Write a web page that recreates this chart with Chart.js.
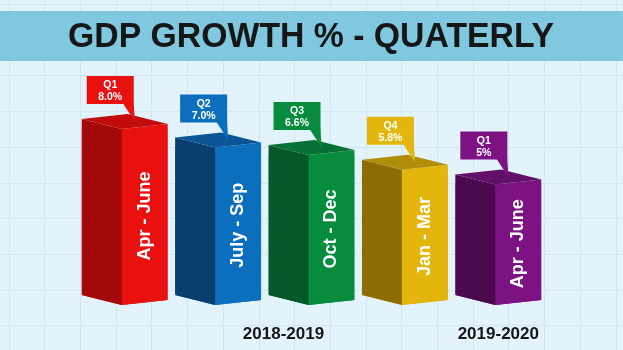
<!DOCTYPE html>
<html>
<head>
<meta charset="utf-8">
<title>GDP Growth % - Quaterly</title>
<script src="https://cdn.jsdelivr.net/npm/chart.js@4.4.1/dist/chart.umd.min.js"></script>
<style>
  html, body { margin: 0; padding: 0; background: #e3f3fb; }
  #wrap { width: 623px; height: 350px; }
</style>
</head>
<body>
<div id="wrap"><canvas id="myChart" width="623" height="350"></canvas></div>
<script>
// data
const titleText = 'GDP GROWTH % - QUATERLY';
const periods = ['Apr - June', 'July - Sep', 'Oct - Dec', 'Jan - Mar', 'Apr - June'];
const quarters = ['Q1', 'Q2', 'Q3', 'Q4', 'Q1'];
const growth = [8.0, 7.0, 6.6, 5.8, 5];
const growthLabels = ['8.0%', '7.0%', '6.6%', '5.8%', '5%'];
const years = ['2018-2019', '2019-2020'];
const yearAt = [1.7, 4]; // position on the category axis

// colours: front face, left face, top face
const frontColors = ['#e8110f', '#0c6fbe', '#078b3d', '#e2b60c', '#7d1283'];
const sideColors = ['#a30909', '#0a3e6f', '#06582a', '#8c6d05', '#4b0a4d'];
const topColors = ['#c20c0b', '#0b5596', '#077034', '#b08d08', '#63106a'];

const FONT = '"Liberation Sans", Arial, sans-serif';

// geometry of a 3d box built on a bar element
function boxOf(bar) {
    const xL = bar.x - bar.width / 2;
    const xR = bar.x + bar.width / 2;
    return { xL: xL, xR: xR, xF: xL + bar.width * 0.465, top: bar.y, base: bar.base, dl: 10, dr: 5 };
}

function poly(ctx, pts, color) {
    ctx.beginPath();
    ctx.moveTo(pts[0][0], pts[0][1]);
    for (let i = 1; i < pts.length; i++) ctx.lineTo(pts[i][0], pts[i][1]);
    ctx.closePath();
    if (color) {
        ctx.fillStyle = color;
        ctx.fill();
    }
}

function outline(b) {
    return [
        [b.xL, b.base - b.dl], [b.xF, b.base], [b.xR, b.base - b.dr],
        [b.xR, b.top - b.dr], [b.xL + b.xR - b.xF, b.top - b.dl - b.dr], [b.xL, b.top - b.dl]
    ];
}

// background, grid, title band
const backgroundPlugin = {
    id: 'background',
    beforeDraw(chart) {
        const ctx = chart.ctx;
        const w = chart.width, h = chart.height;
        ctx.save();
        ctx.fillStyle = '#e3f3fb';
        ctx.fillRect(0, 0, w, h);
        ctx.strokeStyle = '#d0e7f2';
        ctx.lineWidth = 1;
        for (let x = 80 - 35.7 * 2; x < w; x += 35.7) {
            ctx.beginPath();
            ctx.moveTo(Math.round(x) + 0.5, 0);
            ctx.lineTo(Math.round(x) + 0.5, h);
            ctx.stroke();
        }
        for (let y = 4; y < h; y += 35.7) {
            ctx.beginPath();
            ctx.moveTo(0, Math.round(y) + 0.5);
            ctx.lineTo(w, Math.round(y) + 0.5);
            ctx.stroke();
        }
        ctx.fillStyle = '#7fc8e0';
        ctx.fillRect(0, 11, w, 50);
        ctx.fillStyle = '#161616';
        ctx.font = 'bold 35px ' + FONT;
        ctx.textAlign = 'center';
        ctx.textBaseline = 'alphabetic';
        ctx.fillText(titleText, 311, 47, 486);
        ctx.restore();
    }
};

// 3d faces, labels inside the bars, callouts and years
const boxPlugin = {
    id: 'boxes',
    beforeDatasetDraw(chart) {
        const ctx = chart.ctx;
        ctx.save();
        ctx.beginPath();
        chart.getDatasetMeta(0).data.forEach(bar => {
            const pts = outline(boxOf(bar));
            ctx.moveTo(pts[0][0], pts[0][1]);
            pts.slice(1).forEach(p => ctx.lineTo(p[0], p[1]));
            ctx.closePath();
        });
        ctx.clip();
    },
    afterDatasetDraw(chart) {
        chart.ctx.restore();
    },
    afterDatasetsDraw(chart) {
        const ctx = chart.ctx;
        const xScale = chart.scales.x;
        ctx.save();
        chart.getDatasetMeta(0).data.forEach((bar, i) => {
            const b = boxOf(bar);
            const back = [b.xL + b.xR - b.xF, b.top - b.dl - b.dr];
            // front face
            poly(ctx, [[b.xF, b.top], [b.xR, b.top - b.dr], [b.xR, b.base - b.dr], [b.xF, b.base]], frontColors[i]);
            // left face
            poly(ctx, [[b.xL, b.top - b.dl], [b.xF, b.top], [b.xF, b.base], [b.xL, b.base - b.dl]], sideColors[i]);
            // top face
            poly(ctx, [[b.xL, b.top - b.dl], back, [b.xR, b.top - b.dr], [b.xF, b.top]], topColors[i]);

            // period label, rotated
            ctx.save();
            ctx.translate((b.xF + b.xR) / 2, (b.top + b.base) / 2 - 1);
            ctx.rotate(-Math.PI / 2);
            ctx.fillStyle = '#ffffff';
            ctx.font = 'bold 18px ' + FONT;
            ctx.textAlign = 'center';
            ctx.textBaseline = 'middle';
            ctx.fillText(periods[i], 0, 0);
            ctx.restore();

            // callout
            const left = b.xL + 5, right = b.xL + 52;
            const bottom = b.top - b.dl - 15, top = bottom - 28;
            poly(ctx, [[left, top], [right, top], [right, bottom], [left, bottom]], frontColors[i]);
            poly(ctx, [[right - 11, bottom - 1], [right, bottom - 1], [b.xL + 53, b.top - (b.dl + b.dr) / 2]], frontColors[i]);
            ctx.fillStyle = '#ffffff';
            ctx.font = 'bold 10.5px ' + FONT;
            ctx.textAlign = 'center';
            ctx.textBaseline = 'alphabetic';
            ctx.fillText(quarters[i], (left + right) / 2, bottom - 16);
            ctx.fillText(growthLabels[i], (left + right) / 2, bottom - 4);
        });

        // years under the bars
        ctx.fillStyle = '#161616';
        ctx.font = 'bold 17px ' + FONT;
        ctx.textAlign = 'center';
        ctx.textBaseline = 'alphabetic';
        years.forEach((yr, i) => {
            ctx.fillText(yr, xScale.getPixelForValue(yearAt[i]), 339);
        });
        ctx.restore();
    }
};

const ctx = document.getElementById('myChart').getContext('2d');
const myChart = new Chart(ctx, {
    type: 'bar',
    data: {
        labels: periods,
        datasets: [{
            label: 'GDP growth %',
            data: growth,
            base: -1.5,
            backgroundColor: frontColors,
            borderWidth: 0,
            barPercentage: 0.92,
            categoryPercentage: 1.0
        }]
    },
    options: {
        responsive: false,
        animation: false,
        devicePixelRatio: 1,
        layout: {
            padding: { left: 78, right: 78, top: 92, bottom: 45 }
        },
        scales: {
            x: { display: false },
            y: { display: false, min: -1.5, max: 10 }
        },
        plugins: {
            legend: { display: false },
            tooltip: { enabled: false }
        }
    },
    plugins: [backgroundPlugin, boxPlugin]
});
</script>
</body>
</html>
